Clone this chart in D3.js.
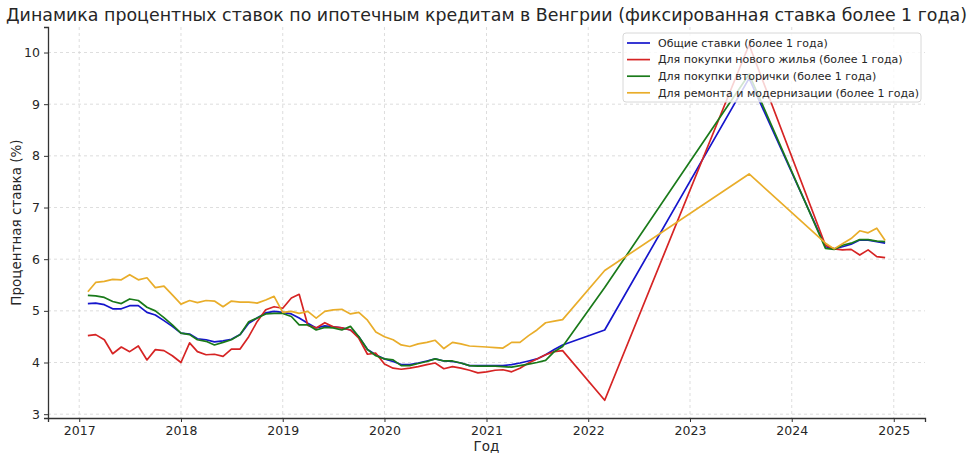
<!DOCTYPE html>
<html>
<head>
<meta charset="utf-8">
<script src="https://cdn.jsdelivr.net/npm/d3@7"></script>
<style>
  body { margin: 0; background: #fff; }
  svg { display: block; font-family: "DejaVu Sans", sans-serif; }
</style>
</head>
<body>
<svg id="chart"></svg>
<script>
// Months with data (monthly until Oct 2021, then sparse points)
const months = [
  "2017-02","2017-03","2017-04","2017-05","2017-06","2017-07","2017-08","2017-09","2017-10","2017-11","2017-12",
  "2018-01","2018-02","2018-03","2018-04","2018-05","2018-06","2018-07","2018-08","2018-09","2018-10","2018-11","2018-12",
  "2019-01","2019-02","2019-03","2019-04","2019-05","2019-06","2019-07","2019-08","2019-09","2019-10","2019-11","2019-12",
  "2020-01","2020-02","2020-03","2020-04","2020-05","2020-06","2020-07","2020-08","2020-09","2020-10","2020-11","2020-12",
  "2021-01","2021-02","2021-03","2021-04","2021-05","2021-06","2021-07","2021-08","2021-09","2021-10",
  "2022-03","2023-08",
  "2024-05","2024-06","2024-07","2024-08","2024-09","2024-10","2024-11","2024-12"
];

const generalRates = [
  5.14, 5.15, 5.12, 5.04, 5.04, 5.10, 5.10, 4.97, 4.92, 4.81, 4.70,
  4.57, 4.55, 4.46, 4.44, 4.40, 4.42, 4.45, 4.54, 4.76, 4.86, 4.96, 4.99,
  4.97, 4.94, 4.86, 4.76, 4.67, 4.71, 4.69, 4.67, 4.63, 4.50, 4.25, 4.15,
  4.07, 4.02, 3.96, 3.96, 3.99, 4.03, 4.07, 4.03, 4.02, 3.99, 3.94, 3.94,
  3.94, 3.94, 3.94, 3.96, 3.99, 4.03, 4.07, 4.15, 4.25, 4.34,
  4.63, 9.50,
  6.24, 6.20, 6.24, 6.29, 6.37, 6.37, 6.34, 6.31
];

const newHomeRates = [
  4.52, 4.54, 4.44, 4.17, 4.30, 4.21, 4.32, 4.05, 4.25, 4.23, 4.13,
  4.00, 4.38, 4.21, 4.15, 4.16, 4.12, 4.26, 4.26, 4.50, 4.79, 5.02, 5.08,
  5.05, 5.25, 5.32, 4.72, 4.67, 4.77, 4.69, 4.67, 4.63, 4.47, 4.16, 4.18,
  3.97, 3.89, 3.87, 3.89, 3.92, 3.96, 3.99, 3.88, 3.92, 3.89, 3.85, 3.80,
  3.82, 3.85, 3.86, 3.82, 3.89, 3.99, 4.07, 4.15, 4.21, 4.23,
  3.27, 10.15,
  6.27, 6.20, 6.18, 6.19, 6.08, 6.18, 6.05, 6.03
];

const usedHomeRates = [
  5.30, 5.29, 5.26, 5.18, 5.14, 5.23, 5.20, 5.07, 5.00, 4.87, 4.73,
  4.57, 4.54, 4.44, 4.41, 4.34, 4.39, 4.44, 4.54, 4.79, 4.86, 4.94, 4.95,
  4.95, 4.89, 4.73, 4.73, 4.63, 4.68, 4.67, 4.63, 4.70, 4.50, 4.25, 4.13,
  4.07, 4.05, 3.94, 3.94, 3.98, 4.02, 4.07, 4.03, 4.03, 3.99, 3.94, 3.93,
  3.93, 3.93, 3.92, 3.91, 3.94, 3.97, 4.00, 4.04, 4.21, 4.31,
  5.45, 9.58,
  6.21, 6.19, 6.27, 6.31, 6.38, 6.38, 6.35, 6.34
];

const renovationRates = [
  5.37, 5.55, 5.57, 5.61, 5.60, 5.70, 5.60, 5.64, 5.45, 5.48, 5.31,
  5.13, 5.20, 5.16, 5.20, 5.19, 5.08, 5.19, 5.17, 5.17, 5.15, 5.21, 5.28,
  4.97, 4.99, 4.95, 4.99, 4.86, 4.99, 5.02, 5.03, 4.94, 4.97, 4.82, 4.59,
  4.50, 4.44, 4.34, 4.31, 4.36, 4.39, 4.43, 4.27, 4.39, 4.36, 4.32, 4.31,
  4.30, 4.29, 4.28, 4.39, 4.39, 4.52, 4.63, 4.77, 4.80, 4.83,
  5.78, 7.65,
  6.31, 6.20, 6.30, 6.40, 6.55, 6.51, 6.60, 6.36
];

const seriesNames = [
  "Общие ставки (более 1 года)",
  "Для покупки нового жилья (более 1 года)",
  "Для покупки вторички (более 1 года)",
  "Для ремонта и модернизации (более 1 года)"
];
const seriesColors = ["#1515cc", "#d62424", "#1a7a1a", "#e9ad2a"];
const yearTicks = [2017, 2018, 2019, 2020, 2021, 2022, 2023, 2024, 2025];
const rateTicks = [3, 4, 5, 6, 7, 8, 9, 10];

const W = 974, H = 461;
const margin = { top: 27, right: 49, bottom: 43, left: 48 };
const width = W - margin.left - margin.right;
const height = H - margin.top - margin.bottom;

const parse = d3.timeParse("%Y-%m");
const dates = months.map(parse);
const allSeries = [generalRates, newHomeRates, usedHomeRates, renovationRates];

// matplotlib-like 5% padding
const t0 = +dates[0], t1 = +dates[dates.length - 1];
const tPad = (t1 - t0) * 0.05;
const x = d3.scaleTime()
  .domain([new Date(t0 - tPad), new Date(t1 + tPad)])
  .range([0, width]);

const allVals = allSeries.flat();
const vMin = d3.min(allVals), vMax = d3.max(allVals);
const vPad = (vMax - vMin) * 0.05;
const y = d3.scaleLinear()
  .domain([vMin - vPad, vMax + vPad])
  .range([height, 0]);

const svg = d3.select("#chart").attr("width", W).attr("height", H);
const g = svg.append("g").attr("transform", `translate(${margin.left},${margin.top})`);

// Grid
const yearDates = yearTicks.map(yr => new Date(yr, 0, 1));
g.append("g").selectAll("line").data(yearDates).join("line")
  .attr("x1", d => x(d)).attr("x2", d => x(d))
  .attr("y1", 0).attr("y2", height)
  .attr("stroke", "#d4d4d4").attr("stroke-width", 0.8).attr("stroke-dasharray", "3,3");
g.append("g").selectAll("line").data(rateTicks).join("line")
  .attr("x1", 0).attr("x2", width)
  .attr("y1", d => y(d)).attr("y2", d => y(d))
  .attr("stroke", "#d4d4d4").attr("stroke-width", 0.8).attr("stroke-dasharray", "3,3");

// Lines
const line = d3.line()
  .x((d, i) => x(dates[i]))
  .y(d => y(d));

allSeries.forEach((vals, k) => {
  g.append("path")
    .datum(vals)
    .attr("fill", "none")
    .attr("stroke", seriesColors[k])
    .attr("stroke-width", 1.7)
    .attr("stroke-linejoin", "round")
    .attr("d", line);
});

// Axes
const xAxis = g.append("g")
  .attr("transform", `translate(0,${height})`)
  .call(d3.axisBottom(x).tickValues(yearDates).tickFormat(d3.timeFormat("%Y")).tickSize(4).tickPadding(4));
const yAxis = g.append("g")
  .call(d3.axisLeft(y).tickValues(rateTicks).tickFormat(d3.format("d")).tickSize(4).tickPadding(4));

[xAxis, yAxis].forEach(ax => {
  ax.select(".domain").attr("stroke", "#333").attr("stroke-width", 1.3);
  ax.selectAll(".tick line").attr("stroke", "#333");
  ax.selectAll(".tick text").attr("fill", "#262626").attr("font-size", 12.5)
    .attr("font-family", "DejaVu Sans, sans-serif");
});

// Axis labels
g.append("text")
  .attr("x", width / 2).attr("y", height + 33)
  .attr("text-anchor", "middle")
  .attr("font-size", 13.5).attr("fill", "#262626")
  .text("Год");

g.append("text")
  .attr("transform", "rotate(-90)")
  .attr("x", -height / 2).attr("y", -27)
  .attr("text-anchor", "middle")
  .attr("font-size", 13.5).attr("fill", "#262626")
  .text("Процентная ставка (%)");

// Title
svg.append("text")
  .attr("x", margin.left + width / 2).attr("y", 21)
  .attr("text-anchor", "middle")
  .attr("font-size", 17.4).attr("fill", "#262626")
  .text("Динамика процентных ставок по ипотечным кредитам в Венгрии (фиксированная ставка более 1 года)");

// Legend
const legend = svg.append("g").attr("transform", "translate(623,33)");
legend.append("rect")
  .attr("width", 298).attr("height", 69).attr("rx", 3)
  .attr("fill", "#fff").attr("fill-opacity", 0.8)
  .attr("stroke", "#d8d8d8");
seriesNames.forEach((name, k) => {
  const row = legend.append("g").attr("transform", `translate(0,${10 + k * 16.6})`);
  row.append("line")
    .attr("x1", 4).attr("x2", 27)
    .attr("stroke", seriesColors[k]).attr("stroke-width", 1.7);
  row.append("text")
    .attr("x", 35).attr("dy", "0.35em")
    .attr("font-size", 11).attr("fill", "#262626")
    .text(name);
});
</script>
</body>
</html>
